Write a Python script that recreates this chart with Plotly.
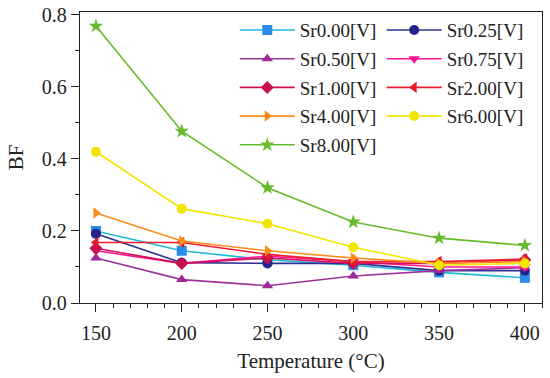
import plotly.graph_objects as go

temps = [150, 200, 250, 300, 350, 400]

names = ["Sr0.00[V]", "Sr0.25[V]", "Sr0.50[V]", "Sr0.75[V]", "Sr1.00[V]",
         "Sr2.00[V]", "Sr4.00[V]", "Sr6.00[V]", "Sr8.00[V]"]

sr000 = [0.200, 0.145, 0.120, 0.105, 0.085, 0.070]
sr025 = [0.192, 0.112, 0.110, 0.110, 0.090, 0.090]
sr050 = [0.125, 0.065, 0.048, 0.075, 0.090, 0.098]
sr075 = [0.145, 0.110, 0.130, 0.115, 0.100, 0.100]
sr100 = [0.152, 0.110, 0.125, 0.110, 0.110, 0.120]
sr200 = [0.168, 0.168, 0.135, 0.115, 0.115, 0.122]
sr400 = [0.250, 0.172, 0.145, 0.125, 0.110, 0.115]
sr600 = [0.420, 0.262, 0.220, 0.155, 0.105, 0.110]
sr800 = [0.769, 0.477, 0.320, 0.225, 0.180, 0.160]

series = [sr000, sr025, sr050, sr075, sr100, sr200, sr400, sr600, sr800]

line_colors = ["#22B8D8", "#2E3192", "#A0309A", "#FF1493", "#D0105A",
               "#EE1C2E", "#FF8C1A", "#F2E600", "#66BB2A"]
marker_colors = ["#2A8BEA", "#23238C", "#9A2A96", "#FF1493", "#C8104E",
                 "#E8182A", "#FF8C1A", "#F2E600", "#66BB2A"]
symbols = ["square", "circle", "triangle-up", "triangle-down", "diamond",
           "triangle-left", "triangle-right", "circle", "star"]

FONT = "Liberation Serif, Times New Roman, serif"
TXT = "#222222"

fig = go.Figure()
for i, (nm, ys) in enumerate(zip(names, series)):
    fig.add_trace(go.Scatter(
        x=temps, y=ys, name=nm, mode="lines+markers",
        line=dict(color=line_colors[i], width=1.6),
        marker=dict(symbol=symbols[i], size=10 if symbols[i] != "star" else 11,
                    color=marker_colors[i]),
        legend="legend" if i % 2 == 0 else "legend2",
        legendgroup=nm,
    ))

legfont = dict(family=FONT, size=19, color=TXT)
fig.update_layout(
    width=550, height=378,
    margin=dict(l=80, r=8, t=12, b=75, autoexpand=False),
    paper_bgcolor="white", plot_bgcolor="white",
    font=dict(family=FONT, size=19, color=TXT),
    showlegend=True,
    legend=dict(x=0.335, y=1.003, xanchor="left", yanchor="top",
                bgcolor="rgba(0,0,0,0)", borderwidth=0, itemwidth=55,
                tracegroupgap=1, font=legfont),
    legend2=dict(x=0.653, y=1.003, xanchor="left", yanchor="top",
                 bgcolor="rgba(0,0,0,0)", borderwidth=0, itemwidth=55,
                 tracegroupgap=1, font=legfont),
)

fig.update_xaxes(
    range=[140.7, 410], tickvals=temps, ticks="outside", ticklen=8, tickwidth=1.3,
    tickcolor=TXT, showline=True, linecolor=TXT, linewidth=1.3,
    mirror=True, showgrid=False, zeroline=False, automargin=False,
    tickfont=dict(family=FONT, size=20, color=TXT), ticklabelstandoff=4,
    minor=dict(dtick=10, tick0=150, ticks="outside", ticklen=4, tickwidth=1.2,
               tickcolor=TXT, showgrid=False),
    title=dict(text="Temperature (°C)", font=dict(family=FONT, size=21, color=TXT),
               standoff=10),
)
fig.update_yaxes(
    range=[0, 0.808], tickvals=[0.0, 0.2, 0.4, 0.6, 0.8], tickformat=".1f",
    ticks="outside", ticklen=8, tickwidth=1.3, tickcolor=TXT,
    showline=True, linecolor=TXT, linewidth=1.3, mirror=True,
    showgrid=False, zeroline=False, automargin=False,
    tickfont=dict(family=FONT, size=20, color=TXT),
    minor=dict(dtick=0.1, tick0=0, ticks="outside", ticklen=4, tickwidth=1.2,
               tickcolor=TXT, showgrid=False),
    title=dict(text="BF", font=dict(family=FONT, size=21, color=TXT), standoff=12),
)

fig.write_html("out.html",
               config={"displayModeBar": False},
               post_script="document.body.style.margin='0';document.body.style.overflow='hidden';")
